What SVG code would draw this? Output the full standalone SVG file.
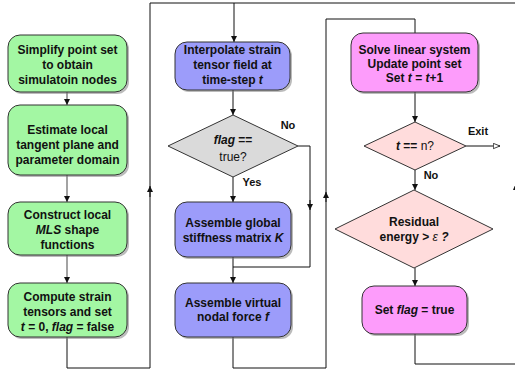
<svg xmlns="http://www.w3.org/2000/svg" width="515" height="370" viewBox="0 0 515 370">
<style>
text{font-family:"Liberation Sans",Arial,sans-serif;font-size:12px;font-weight:bold;fill:#111;text-anchor:middle}
.it{font-style:italic}
.nb{font-weight:normal}
.g{fill:#a3f7a3;stroke:#333;stroke-width:1}
.b{fill:#9c9cfa;stroke:#333;stroke-width:1}
.p{fill:#fd9cfb;stroke:#333;stroke-width:1}
.dg{fill:#dadada;stroke:#333;stroke-width:1}
.dp{fill:#ffdcdc;stroke:#333;stroke-width:1}
.sh{fill:#777;opacity:.5}
.c{fill:none;stroke:#111;stroke-width:1}
.cg{fill:none;stroke:#666;stroke-width:1.2}
.lbl{font-size:11px}
</style>
<defs>
<marker id="ah" viewBox="0 0 10 10" refX="10" refY="5" markerWidth="6" markerHeight="6" markerUnits="userSpaceOnUse" orient="auto"><path d="M0,0 L10,5 L0,10 z" fill="#111"/></marker>
<marker id="ao" viewBox="0 0 12 10" refX="11" refY="5" markerWidth="8" markerHeight="7" markerUnits="userSpaceOnUse" orient="auto"><path d="M1,1 L11,5 L1,9 z" fill="#fff" stroke="#111" stroke-width="1.2"/></marker>
</defs>

<g id="connectors">
<path class="cg" d="M67,92 V105" marker-end="url(#ah)"/>
<path class="cg" d="M67,175 V202" marker-end="url(#ah)"/>
<path class="cg" d="M67,255 V283" marker-end="url(#ah)"/>
<path class="c" d="M67,337 V368 H150 V190"/>
<path class="c" d="M150,197 V186" marker-end="url(#ah)"/>
<path class="c" d="M150,190 V3 H515"/>
<path class="c" d="M234,3 V42" marker-end="url(#ah)"/>
<path class="c" d="M233,90 V115" marker-end="url(#ah)"/>
<path class="c" d="M233,177 V202" marker-end="url(#ah)"/>
<path class="c" d="M298,146 H310 V267 H233"/>
<path class="c" d="M310,200 V210" marker-end="url(#ah)"/>
<path class="c" d="M233,257 V283" marker-end="url(#ah)"/>
<path class="c" d="M233,337 V368 H326 V19 H415 V33"/>
<path class="c" d="M326,202 V192" marker-end="url(#ah)"/>
<path class="c" d="M415,92 V122" marker-end="url(#ah)"/>
<path class="c" d="M466,146 H500" marker-end="url(#ao)"/>
<path class="c" d="M415,170 V190" marker-end="url(#ah)"/>
<path class="c" d="M415,268 V286" marker-end="url(#ah)"/>
<path class="c" d="M415,334 V364 H516 V3"/>
<path d="M516,183 L513,190 L519,190 z" fill="#111"/>
</g>

<g id="simplify">
<rect class="sh" x="10" y="37" width="119" height="57" rx="12"/>
<rect class="g" x="8" y="35" width="119" height="57" rx="12"/>
<text x="67.5" y="54">Simplify point set</text>
<text x="67.5" y="69">to obtain</text>
<text x="67.5" y="84">simulatoin nodes</text>
</g>
<g id="estimate">
<rect class="sh" x="10" y="107" width="119" height="70" rx="12"/>
<rect class="g" x="8" y="105" width="119" height="70" rx="12"/>
<text x="67.5" y="134">Estimate local</text>
<text x="67.5" y="149">tangent plane and</text>
<text x="67.5" y="164">parameter domain</text>
</g>
<g id="construct">
<rect class="sh" x="10" y="204" width="119" height="53" rx="12"/>
<rect class="g" x="8" y="202" width="119" height="53" rx="12"/>
<text x="67.5" y="219">Construct local</text>
<text x="67.5" y="234"><tspan class="it">MLS</tspan> shape</text>
<text x="67.5" y="249">functions</text>
</g>
<g id="compute">
<rect class="sh" x="10" y="285" width="119" height="54" rx="12"/>
<rect class="g" x="8" y="283" width="119" height="54" rx="12"/>
<text x="67.5" y="301">Compute strain</text>
<text x="67.5" y="316">tensors and set</text>
<text x="67.5" y="331"><tspan class="it">t</tspan> = 0, <tspan class="it">flag</tspan> = false</text>
</g>

<g id="interpolate">
<rect class="sh" x="177" y="44" width="115" height="48" rx="12"/>
<rect class="b" x="175" y="42" width="115" height="48" rx="12"/>
<text x="232.5" y="54">Interpolate strain</text>
<text x="232.5" y="69">tensor field at</text>
<text x="232.5" y="84">time-step <tspan class="it">t</tspan></text>
</g>
<g id="flagcheck">
<polygon class="dg" points="233,115 298,146 233,177 168,146"/>
<text x="233" y="144"><tspan class="it">flag</tspan> ==</text>
<text x="233" y="161" class="nb">true?</text>
<text x="288" y="129" class="lbl">No</text>
<text x="252" y="186" class="lbl">Yes</text>
</g>
<g id="stiffness">
<rect class="sh" x="177" y="204" width="116" height="55" rx="12"/>
<rect class="b" x="175" y="202" width="116" height="55" rx="12"/>
<text x="233" y="227">Assemble global</text>
<text x="233" y="242">stiffness matrix <tspan class="it">K</tspan></text>
</g>
<g id="force">
<rect class="sh" x="177" y="285" width="116" height="54" rx="12"/>
<rect class="b" x="175" y="283" width="116" height="54" rx="12"/>
<text x="233" y="307">Assemble virtual</text>
<text x="233" y="321">nodal force <tspan class="it">f</tspan></text>
</g>

<g id="solve">
<rect class="sh" x="353" y="35" width="127" height="59" rx="12"/>
<rect class="p" x="351" y="33" width="127" height="59" rx="12"/>
<text x="414.5" y="54">Solve linear system</text>
<text x="414.5" y="68">Update point set</text>
<text x="414.5" y="82">Set <tspan class="it">t</tspan> = <tspan class="it">t</tspan>+1</text>
</g>
<g id="tcheck">
<polygon class="dp" points="415,122 466,146 415,170 364,146"/>
<text x="415" y="150"><tspan class="it">t</tspan> == <tspan class="nb">n?</tspan></text>
<text x="478" y="135" class="lbl">Exit</text>
<text x="431" y="179" class="lbl">No</text>
</g>
<g id="residual">
<polygon class="dp" points="414,190 493,229 414,268 335,229"/>
<text x="414" y="226">Residual</text>
<text x="414" y="241">energy &gt; <tspan class="it nb">ε</tspan> <tspan class="it">?</tspan></text>
</g>
<g id="setflag">
<rect class="sh" x="364" y="288" width="105" height="48" rx="12"/>
<rect class="p" x="362" y="286" width="105" height="48" rx="12"/>
<text x="414.5" y="314">Set <tspan class="it">flag</tspan> = true</text>
</g>
</svg>
